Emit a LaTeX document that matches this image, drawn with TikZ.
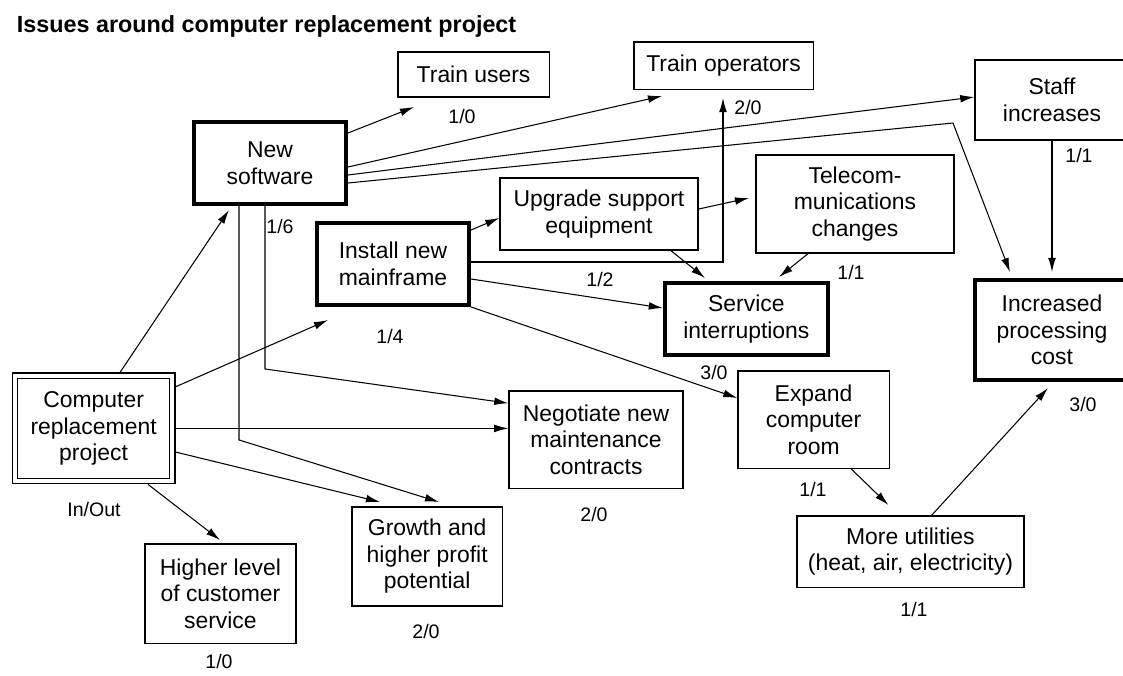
\documentclass[tikz,border=0pt]{standalone}
\usepackage{fontspec}
\setmainfont{Liberation Sans}
\usetikzlibrary{arrows.meta}

\newcommand{\issuefont}{\fontsize{16.3}{18.85}\selectfont}
\newcommand{\tallyfont}{\fontsize{13.9}{16}\selectfont}
\newcommand{\titlefont}{\fontsize{16.6}{20}\selectfont\bfseries}

\begin{document}
\begin{tikzpicture}[
    every node/.style={font=\issuefont},
    issue/.style={draw, line width=1pt, align=center, inner sep=0pt},
    major/.style={issue, line width=2.8pt},
    wh/.style 2 args={minimum width=#1cm, minimum height=#2cm},
    tally/.style={font=\tallyfont},
    conn/.style={-{Latex[length=10pt,width=5.5pt]}, line width=0.75pt}
]
    \useasboundingbox (0,0) rectangle (28.075,-16.875);
    \clip (0,0) rectangle (28.075,-16.875);
    % title
    \node[anchor=base west, font=\titlefont] (title) at (0.3,-0.8) {Issues around computer replacement project};
    % the project itself
    \node[issue, double, double distance=3pt, line width=0.9pt, outer sep=2.4pt, wh={3.93}{2.63}] (crp) at (2.34,-10.71) {Computer\\replacement\\project};
    % key issues
    \node[major, wh={3.8}{2.05}] (ns) at (6.75,-4.075) {New\\software};
    \node[major, wh={3.8}{2.05}] (nm) at (9.825,-6.6) {Install new\\mainframe};
    \node[major, wh={4.08}{1.8}] (sv) at (18.66,-7.975) {Service\\interruptions};
    \node[major, wh={3.85}{2.5}] (ipc) at (26.3,-8.25) {Increased\\processing\\cost};
    % other issues
    \node[issue, wh={3.78}{1.13}] (tu) at (11.84,-1.86) {Train users};
    \node[issue, wh={4.48}{1.18}] (to) at (18.09,-1.64) {Train operators};
    \node[issue, wh={3.85}{2.0}] (si) at (26.3,-2.5) {Staff\\increases};
    \node[issue, wh={4.95}{1.8}] (use) at (14.975,-5.35) {Upgrade support\\equipment};
    \node[issue, wh={4.95}{2.45}] (tc) at (21.375,-5.1) {Telecom-\\munications\\changes};
    \node[issue, wh={3.78}{2.48}] (hl) at (5.51,-14.84) {Higher level\\of customer\\service};
    \node[issue, wh={3.75}{2.48}] (gh) at (10.68,-13.91) {Growth and\\higher profit\\potential};
    \node[issue, wh={4.35}{2.43}] (nc) at (14.9,-10.99) {Negotiate new\\maintenance\\contracts};
    \node[issue, wh={3.78}{2.43}] (ec) at (20.34,-10.49) {Expand\\computer\\room};
    \node[issue, wh={5.68}{1.78}] (mu) at (22.76,-13.79) {More utilities\\(heat, air, electricity)};
    % in/out counts
    \foreach \n/\x/\y/\a/\b in {tu/11.55/-2.925/1/0, to/18.7/-2.7/2/0, si/26.975/-3.9/1/1,
        ns/7.0/-5.675/1/6, nm/9.75/-8.425/1/4, use/15.0/-7.0/1/2, tc/21.275/-6.825/1/1,
        sv/17.85/-9.325/3/0, ipc/27.075/-10.125/3/0, crp/2.35/-12.75/In/Out,
        hl/5.475/-16.55/1/0, gh/10.65/-15.8/2/0, nc/14.85/-12.875/2/0,
        ec/20.325/-12.25/1/1, mu/22.85/-15.25/1/1} {
        \node[tally] (\n-io) at (\x,\y) {\a/\b};
    }
    % free arrow ends
    \coordinate (ns-in) at (5.725,-5.25);
    \coordinate (nm-in) at (8.2,-8.0);
    \coordinate (gh-in1) at (9.5,-12.55);
    \coordinate (gh-in2) at (10.975,-12.55);
    \coordinate (hl-in) at (5.5,-13.5);
    \coordinate (tu-in) at (10.35,-2.675);
    \coordinate (to-in1) at (16.55,-2.4);
    \coordinate (to-in2) at (18.075,-2.45);
    \coordinate (ipc-bend) at (23.825,-3.075);
    \coordinate (ipc-in1) at (25.25,-6.8);
    \coordinate (ipc-in2) at (26.3,-6.8);
    \coordinate (ipc-in3) at (26.2,-9.7);
    \coordinate (tc-in) at (18.725,-4.95);
    \coordinate (sv-in1) at (17.625,-6.95);
    \coordinate (sv-in2) at (19.475,-6.925);
    \coordinate (mu-in) at (22.21,-12.625);
    % from the project
    \draw[conn] ([xshift=0.66cm]crp.north) -- (ns-in);
    \draw[conn] ([yshift=1.04cm]crp.east) -- (nm-in);
    \draw[conn] (crp.east) -- (crp.east -| nc.west);
    \draw[conn] ([yshift=-0.59cm]crp.east) -- (gh-in1);
    \draw[conn] ([xshift=1.36cm]crp.south) -- (hl-in);
    % from new software
    \draw[conn] ([xshift=-0.775cm]ns.south) -- ++(0,-5.85) -- (gh-in2);
    \draw[conn] ([xshift=-0.125cm]ns.south) -- ++(0,-4.075) -- ([yshift=0.91cm]nc.west);
    \draw[conn] ([yshift=0.75cm]ns.east) -- (tu-in);
    \draw[conn] ([yshift=-0.1cm]ns.east) -- (to-in1);
    \draw[conn] ([yshift=-0.3cm]ns.east) -- ([yshift=0.075cm]si.west);
    \draw[conn] ([yshift=-0.5cm]ns.east) -- (ipc-bend) -- (ipc-in1);
    % from the mainframe
    \draw[conn] ([yshift=-0.225cm]nm.north east) -- ([yshift=-0.1cm]use.west);
    \draw[conn] ([yshift=0.05cm]nm.east) -| (to-in2);
    \draw[conn] ([yshift=-0.375cm]nm.east) -- ([yshift=0.275cm]sv.west);
    \draw[conn] (nm.south east) -- ([yshift=0.54cm]ec.west);
    % the rest
    \draw[conn] ([yshift=0.125cm]use.east) -- (tc-in);
    \draw[conn] ([xshift=1.8cm]use.south) -- (sv-in1);
    \draw[conn] ([xshift=-1.175cm]tc.south) -- (sv-in2);
    \draw[conn] (si.south) -- (ipc-in2);
    \draw[conn] ([xshift=0.94cm]ec.south) -- (mu-in);
    \draw[conn] ([xshift=0.53cm]mu.north) -- (ipc-in3);
\end{tikzpicture}
\end{document}
